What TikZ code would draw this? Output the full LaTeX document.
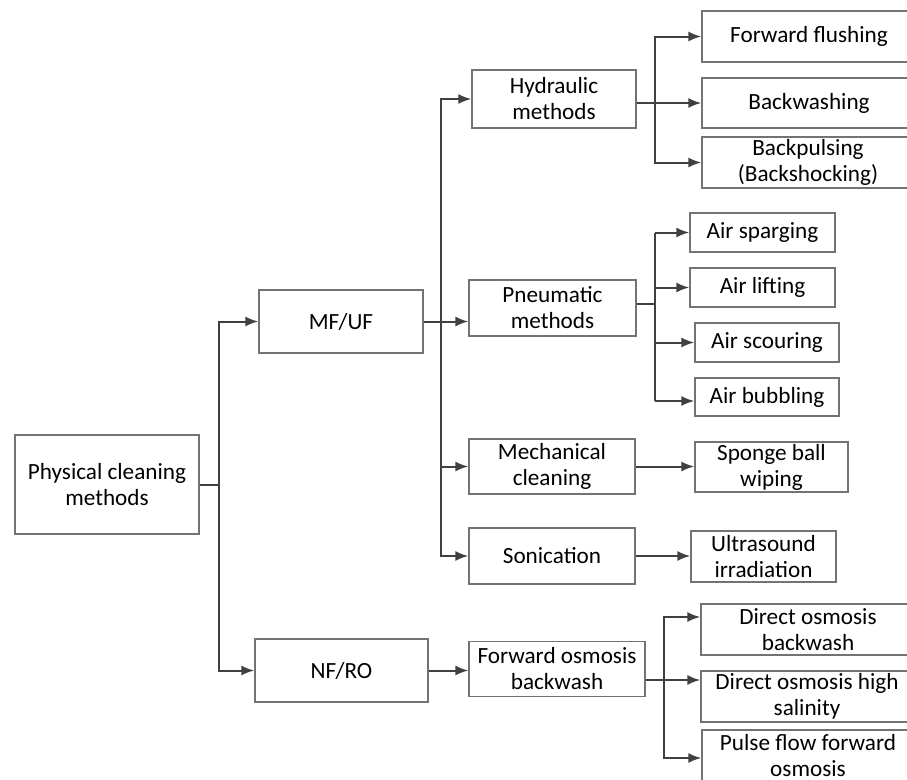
\documentclass[tikz,border=0pt]{standalone}
\usepackage{fontspec}
\setmainfont{Carlito}
\usetikzlibrary{arrows.meta}
\begin{document}
\begin{tikzpicture}[x=1pt,y=-1pt,
    box/.style={draw=black!55,line width=1.3pt,rectangle,inner sep=0pt,align=center,
      font=\fontsize{23.2}{26}\selectfont},
    link/.style={draw=black!75,line width=2pt},
    arr/.style={link,-{Latex[length=13pt,width=10pt]}}]

    \clip (0,0) rectangle (907,779);

    % Define vertices
    \node[box,minimum width=184pt,minimum height=99pt] (phys) at (107,484.5) {Physical cleaning\\methods};
    \node[box,minimum width=164pt,minimum height=63pt] (mfuf) at (341,321.5) {MF/UF};
    \node[box,minimum width=173pt,minimum height=63pt] (nfro) at (341.5,670.5) {NF/RO};

    \node[box,minimum width=164pt,minimum height=58pt] (hydr) at (554,99) {Hydraulic\\methods};
    \node[box,minimum width=167pt,minimum height=56pt] (pneu) at (552.5,308) {Pneumatic\\methods};
    \node[box,minimum width=166pt,minimum height=55pt] (mech) at (552,466.5) {Mechanical\\cleaning};
    \node[box,minimum width=166pt,minimum height=56pt] (soni) at (552,556) {Sonication};
    \node[box,minimum width=176pt,minimum height=55pt] (fob) at (557,669) {Forward osmosis\\backwash};

    \node[box,minimum width=214pt,minimum height=51pt] (fflush) at (809,36.5) {Forward flushing};
    \node[box,minimum width=214pt,minimum height=50pt] (bwash) at (809,103) {Backwashing};
    \node[box,minimum width=212pt,minimum height=51pt] (bpuls) at (808,162.5) {Backpulsing\\(Backshocking)};

    \node[box,minimum width=145pt,minimum height=39pt] (airsp) at (762.5,232.5) {Air sparging};
    \node[box,minimum width=145pt,minimum height=39pt] (airlf) at (762.5,287.5) {Air lifting};
    \node[box,minimum width=144pt,minimum height=39pt] (airsc) at (767,342.5) {Air scouring};
    \node[box,minimum width=144pt,minimum height=38pt] (airbb) at (767,397) {Air bubbling};

    \node[box,minimum width=153pt,minimum height=50pt] (sponge) at (771.5,467) {Sponge ball\\wiping};
    \node[box,minimum width=145pt,minimum height=51pt] (ultra) at (763.5,556.5) {Ultrasound\\irradiation};

    \node[box,minimum width=214pt,minimum height=51pt] (dobw) at (808,629.5) {Direct osmosis\\backwash};
    \node[box,minimum width=212pt,minimum height=51pt] (dohs) at (807,696.5) {Direct osmosis high\\salinity};
    \node[box,minimum width=212pt,minimum height=51pt] (pulse) at (808,755.5) {Pulse flow forward\\osmosis};

    % Junctions
    \coordinate (j0) at (219,484.5);
    \coordinate (j1) at (441,0);
    \coordinate (j2) at (655,0);
    \coordinate (j3) at (655,304);
    \coordinate (j4) at (664,680);

    % Draw edges
    \draw[link] (phys) -- (j0);
    \draw[arr] (j0) |- (mfuf);
    \draw[arr] (j0) |- (nfro);

    \draw[arr] (mfuf) -- (mfuf -| pneu.west);
    \draw[arr] (j1 |- mfuf) |- (hydr);
    \draw[arr] (j1 |- mfuf) |- (mech);
    \draw[arr] (j1 |- mfuf) |- (soni);
    \draw[arr] (nfro) -- (nfro -| fob.west);

    \draw[arr] (hydr.east |- bwash) -- (bwash);
    \draw[arr] (j2 |- bwash) |- (fflush);
    \draw[arr] (j2 |- bwash) |- (bpuls);

    \draw[link] (pneu.east |- j3) -- (j3);
    \draw[link] (j3 |- airsp) -- ([yshift=-4pt]j3 |- airbb);
    \path
        (j3 |- airsp) edge[arr] (airsp)
        (j3 |- airlf) edge[arr] (airlf)
        (j3 |- airsc) edge[arr] (airsc)
        ([yshift=-4pt]j3 |- airbb) edge[arr] ([yshift=-4pt]airbb.west);

    \draw[arr] (mech) -- (mech -| sponge.west);
    \draw[arr] (soni) -- (soni -| ultra.west);

    \draw[link] (fob.east |- j4) -- (j4);
    \draw[arr] (j4) |- ([yshift=12.5pt]dobw.west);
    \draw[arr] (j4) -- ([yshift=16.5pt]dohs.west);
    \draw[arr] (j4) |- ([yshift=-2.5pt]pulse.west);

\end{tikzpicture}
\end{document}
